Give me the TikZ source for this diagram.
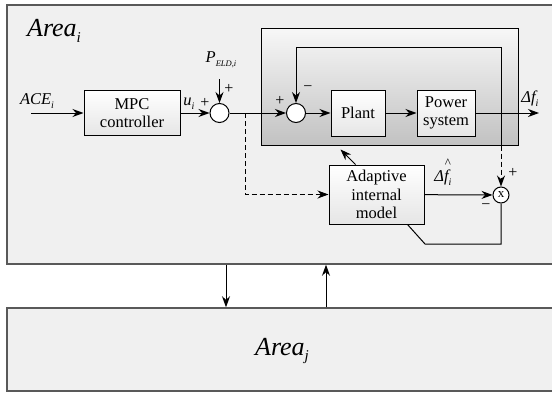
\documentclass[tikz,border=0pt]{standalone}
\usepackage{fontspec}
\setmainfont{Liberation Serif}
\usetikzlibrary{arrows.meta}

\newcommand{\lowsub}[2][10]{\raisebox{-0.5ex}{\fontsize{#1}{#1}\selectfont\itshape #2}}

\tikzset{
	block/.style = {draw, line width = 1pt, top color = white, bottom color = black!10,
		align = center, inner sep = 0pt, font = \fontsize{16.5}{18.5}\selectfont},
	sum/.style = {draw, circle, line width = 1pt, fill = white, inner sep = 0pt},
	area/.style = {draw = black!65, line width = 1.5pt, fill = black!6, minimum width = 553pt, inner sep = 0pt},
	lbl/.style = {inner sep = 0pt, font = \fontsize{16.5}{16.5}\selectfont\itshape},
	sgn/.style = {inner sep = 0pt, font = \fontsize{16}{16}\selectfont},
	dash line/.style = {dash pattern = on 5pt off 3pt}
}

\begin{document}
\begin{tikzpicture}[x = 1pt, y = -1pt, > = {Stealth[length = 11pt, width = 8pt]}, line width = 1pt]

	\useasboundingbox (0, 0) rectangle (552, 394);
	\clip (0, 0) rectangle (552, 394);

	% Areas i and j

	\node [area, minimum height = 259pt] (areai) at (283.5, 134.5) {};
	\node [area, minimum height = 83pt] (areaj) at (283.5, 349.5) {};
	\node [inner sep = 0pt, font = \fontsize{26}{26}\selectfont\itshape] (titlei) at (54, 31) {Area\lowsub[15]{i}};
	\node [inner sep = 0pt, font = \fontsize{26}{26}\selectfont\itshape] (titlej) at (282, 351) {Area\lowsub[15]{j}};

	% Closed loop

	\node [draw, line width = 1pt, top color = black!3, bottom color = black!24,
		minimum width = 257pt, minimum height = 117pt] (loop) at (389.5, 86.5) {};

	% Blocks

	\node [block, minimum width = 96pt, minimum height = 45pt] (mpc) at (132, 113) {MPC\\controller};
	\node [sum, minimum size = 19pt] (sum1) at (219.5, 113) {};
	\node [sum, minimum size = 19pt] (sum2) at (296, 113) {};
	\node [block, minimum width = 54pt, minimum height = 46pt] (plant) at (358, 113) {Plant};
	\node [block, minimum width = 58pt, minimum height = 46pt] (power) at (446, 113) {Power\\system};
	\node [block, minimum width = 95pt, minimum height = 59pt] (aim) at (376.5, 194.5) {Adaptive\\internal\\model};
	\node [sum, minimum size = 16pt, font = \fontsize{13}{13}\selectfont] (xprod) at (501, 195) {x};

	% Free ends

	\coordinate (in) at (31, 113);
	\coordinate (out) at (539, 113);
	\coordinate (eld) at (219.5, 79);
	\coordinate (tap) at (501, 113);
	\coordinate (top) at (501, 47);
	\coordinate (dsh) at (245, 113);
	\coordinate (corner) at (425, 244);
	\coordinate (dn) at (226, 0);
	\coordinate (up) at (326, 0);

	% Forward path

	\draw [->] (in) -- (mpc);
	\draw [->] (mpc) -- (sum1);
	\draw [->] (eld) -- (sum1);
	\draw [->] (sum1) -- (sum2);
	\draw [->] (sum2) -- (plant);
	\draw [->] (plant) -- (power);
	\draw [->] (power) -- (out);

	% Feedback and model

	\draw [->] (tap) -- (top) -| (sum2);
	\draw (tap) -- (tap |- loop.south);
	\draw [dash line, ->] (tap |- loop.south) -- (xprod);
	\draw [dash line, ->] (dsh) |- (aim);
	\draw [->] (aim) -- (xprod);
	\draw [->] ([xshift = 27pt] aim.north west) -- ([xshift = 80pt, yshift = -4pt] loop.south west);
	\draw (xprod) |- (corner) -- ([xshift = 79pt] aim.south west);

	% Between areas

	\draw [->] (areai.south -| dn) -- (areaj.north -| dn);
	\draw [->] (areaj.north -| up) -- (areai.south -| up);

	% Labels

	\node [lbl] (acel) at (37, 101) {ACE\lowsub{i}};
	\node [lbl] (ul) at (189, 104) {u\lowsub{i}};
	\node [lbl] (eldl) at (221, 60) {P\lowsub[8.5]{ELD,i}};
	\node [lbl] (dfl) at (530, 99) {Δf\lowsub{i}};
	\node [lbl] (dhl) at (443, 178) {Δf\lowsub{i}};
	\node [inner sep = 0pt, font = \fontsize{13}{13}\selectfont] (hatl) at (448, 163) {\^{}};
	\node [sgn] (p1) at (205, 103) {+};
	\node [sgn] (p2) at (229, 89) {+};
	\node [sgn] (p3) at (280, 101) {+};
	\node [sgn] (m3) at (308, 89) {−};
	\node [sgn] (p4) at (513, 173) {+};
	\node [sgn] (m4) at (486, 207) {−};

\end{tikzpicture}
\end{document}
